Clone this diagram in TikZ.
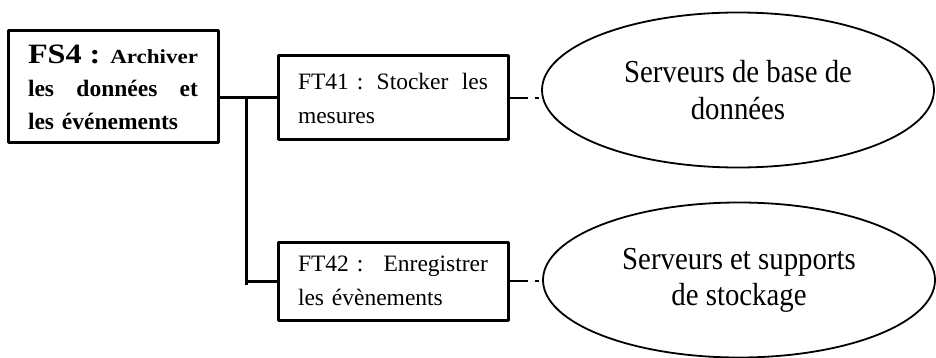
\documentclass[tikz,border=0pt]{standalone}
\usepackage{fontspec}
\setmainfont{Liberation Serif}
\newfontfamily\widefont[FakeStretch=1.15]{Liberation Serif}
\newfontfamily\ovalfont[FakeStretch=0.9]{Liberation Serif}
\usetikzlibrary{shapes.geometric}
\begin{document}
\begin{tikzpicture}[x=1pt, y=-1pt, line join=round,
    box/.style={draw, line width=3pt, inner sep=0pt, align=left},
    oval/.style={draw, ellipse, line width=1.8pt, inner sep=0pt, minimum width=392pt, minimum height=155pt, align=center, font=\ovalfont\fontsize{32}{37}\selectfont},
    link/.style={line width=3pt},
    dashlink/.style={line width=2.5pt, dash pattern=on 18pt off 7pt on 4pt off 10pt}]
  \useasboundingbox (0,0) rectangle (936,358);
  % fonction de service
  \node[box, minimum width=210pt, minimum height=112pt, text width=170pt, font=\bfseries\fontsize{23.5}{33}\selectfont] (fs4) at (113,87)
    {{\widefont\bfseries\fontsize{28}{33}\selectfont FS4 :}\hfill{\widefont\bfseries\fontsize{20}{33}\selectfont Archiver}\\
     les\hfill données\hfill et\\
     les événements};
  % fonctions techniques
  \node[box, minimum width=230pt, minimum height=84pt, text width=190pt, font=\fontsize{23.5}{34}\selectfont] (ft41) at (393,98)
    {FT41 :\hfill Stocker\hfill les\\mesures};
  \node[box, minimum width=230pt, minimum height=78pt, text width=190pt, font=\fontsize{23.5}{34}\selectfont] (ft42) at (393,281)
    {FT42 :\hfill Enregistrer\\les évènements};
  % solutions
  \node[oval] (bdd) at (738,90) {Serveurs de base de\\données};
  \node[oval, font=\ovalfont\fontsize{32}{36}\selectfont] (stock) at (739,280) {Serveurs et supports\\de stockage};
  % liaisons
  \coordinate (split) at (246,98);
  \coordinate (foot) at (246,285);
  \draw[link] (fs4.east |- ft41.west) -- (ft41.west);
  \draw[link] (split) -- (foot);
  \draw[link] (split |- ft42.west) -- (ft42.west);
  \draw[dashlink] (ft41.east) -- (ft41.east -| bdd.west);
  \draw[dashlink] (ft42.east) -- (ft42.east -| stock.west);
\end{tikzpicture}
\end{document}
